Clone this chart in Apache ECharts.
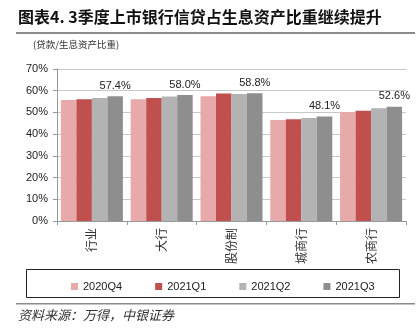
<!DOCTYPE html>
<html>
<head>
<meta charset="utf-8">
<script src="https://cdn.jsdelivr.net/npm/echarts@6/dist/echarts.min.js"></script>
<style>
  html, body { margin: 0; padding: 0; background: #fff; }
  #chart { width: 420px; height: 336px; }
</style>
</head>
<body>
<div id="chart"></div>
<script>
// Loan share of interest-earning assets by bank type, quarterly (%)
const categories = ['行业', '大行', '股份制', '城商行', '农商行'];
const seriesNames = ['2020Q4', '2021Q1', '2021Q2', '2021Q3'];
const q2020Q4 = [55.7, 56.1, 57.5, 46.5, 50.2];
const q2021Q1 = [56.1, 56.6, 58.7, 46.9, 50.8];
const q2021Q2 = [56.6, 57.3, 58.5, 47.4, 51.9];
const q2021Q3 = [57.4, 58.0, 58.8, 48.1, 52.6];
const yTicks = [0, 10, 20, 30, 40, 50, 60, 70];

const colors = ['#E8A9AA', '#C0504D', '#B3B3B3', '#8E8E8E'];
const numFont = '"Liberation Sans", Arial, sans-serif';
const cjkFont = '"Noto Sans CJK SC", sans-serif';

const seriesData = [q2020Q4, q2021Q1, q2021Q2, q2021Q3];

const chart = echarts.init(document.getElementById('chart'), null, { renderer: 'canvas' });

const series = seriesData.map((vals, i) => ({
  name: seriesNames[i],
  type: 'bar',
  data: vals,
  barWidth: 15.5,
  barGap: '0%',
  itemStyle: { color: colors[i] },
  label: i === 3 ? {
    show: true,
    position: 'top',
    distance: 5,
    formatter: p => p.value.toFixed(1) + '%',
    fontFamily: numFont,
    fontSize: 11,
    color: '#222'
  } : { show: false }
}));

chart.setOption({
  animation: false,
  backgroundColor: '#fff',
  grid: { left: 57, right: 14, top: 69, bottom: 115, containLabel: false },
  legend: {
    data: seriesNames,
    left: 66,
    top: 276,
    itemWidth: 7,
    itemHeight: 7,
    itemGap: 33,
    icon: 'rect',
    textStyle: { fontFamily: numFont, fontSize: 11, color: '#222' }
  },
  xAxis: {
    type: 'category',
    data: categories,
    axisLine: { lineStyle: { color: '#999', width: 1 } },
    axisTick: { show: true, length: 4, lineStyle: { color: '#999' } },
    axisLabel: {
      rotate: 90,
      margin: 7,
      fontFamily: cjkFont,
      fontSize: 12,
      color: '#333'
    }
  },
  yAxis: {
    type: 'value',
    min: yTicks[0],
    max: yTicks[yTicks.length - 1],
    interval: 10,
    axisLine: { show: true, lineStyle: { color: '#999' } },
    axisTick: { show: true, length: 4, lineStyle: { color: '#999' } },
    splitLine: { lineStyle: { color: '#C8C8C8', width: 1 } },
    axisLabel: {
      formatter: '{value}%',
      margin: 9,
      fontFamily: numFont,
      fontSize: 11,
      color: '#222'
    }
  },
  graphic: [
    {
      type: 'text', left: 18, top: 9,
      style: {
        text: '图表4. 3季度上市银行信贷占生息资产比重继续提升',
        font: 'bold 16px "Noto Sans CJK SC", sans-serif',
        fill: '#111'
      }
    },
    {
      type: 'rect', shape: { x: 16, y: 32, width: 399, height: 2 },
      style: { fill: '#8C8C8C' }
    },
    {
      type: 'text', left: 33, top: 40,
      style: {
        text: '(贷款/生息资产比重)',
        font: '9.5px "Noto Sans CJK SC", sans-serif',
        fill: '#333'
      }
    },
    {
      type: 'rect', shape: { x: 26.5, y: 269.5, width: 373, height: 28 },
      style: { fill: 'none', stroke: '#222', lineWidth: 1 }
    },
    {
      type: 'rect', shape: { x: 16, y: 303, width: 399, height: 1.5 },
      style: { fill: '#8C8C8C' }
    },
    {
      type: 'text', left: 18, top: 309,
      style: {
        text: '资料来源：万得，中银证券',
        font: 'italic 13px "Noto Sans CJK SC", sans-serif',
        fill: '#333'
      }
    }
  ],
  series: series
});
</script>
</body>
</html>
